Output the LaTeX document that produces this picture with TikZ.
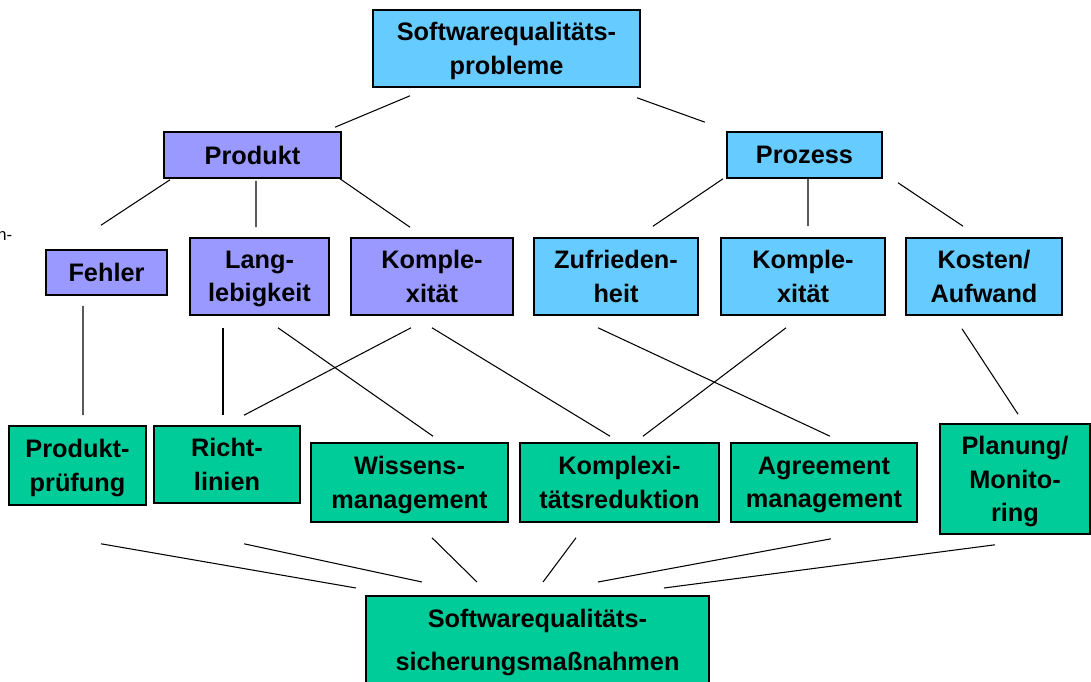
\documentclass[tikz,border=0pt]{standalone}
\usepackage{fontspec}
\setmainfont{Liberation Sans}
\usetikzlibrary{calc}
\definecolor{lblue}{HTML}{66CCFF}
\definecolor{lpurple}{HTML}{9999FF}
\definecolor{lgreen}{HTML}{00CC99}
\begin{document}
\begin{tikzpicture}[x=0.02cm,y=-0.02cm,
  box/.style={draw=black, line width=0.9pt, align=center, inner sep=0pt,
    font=\fontsize{14.4}{19}\selectfont\bfseries},
  bx/.style 2 args={minimum width=#1*0.02cm, minimum height=#2*0.02cm, text depth=0pt},
  blue/.style={box, fill=lblue},
  purple/.style={box, fill=lpurple},
  green/.style={box, fill=lgreen},
  conn/.style={line width=0.6pt, draw=black}]
\useasboundingbox (0,0) rectangle (1091,682);
\clip (0,0) rectangle (1091,682);

% top
\node[blue, bx={267}{77}] (top) at (506.5,48.5) {Softwarequalitäts-\\probleme};
% second level
\node[purple, bx={177}{46}] (prod) at (252.5,155) {Produkt};
\node[blue, bx={155}{46}] (proz) at (804.5,155) {Prozess};
% third level
\node[purple, bx={121}{45}] (fehler) at (106.5,272.5) {Fehler};
\node[purple, bx={139}{77}] (lang) at (259.5,276.5) {Lang-\\lebigkeit};
\node[purple, bx={162}{77}] (kompP) at (432,276.5) {Komple-\\xität};
\node[blue, bx={164}{77}] (zuf) at (616,276.5) {Zufrieden-\\heit};
\node[blue, bx={164}{77}] (kompB) at (803,276.5) {Komple-\\xität};
\node[blue, bx={156}{77}] (kost) at (984,276.5) {Kosten/\\Aufwand};
% measures
\node[green, bx={137}{79}] (pp) at (77.5,465.5) {Produkt-\\prüfung};
\node[green, bx={146}{77}] (richt) at (227,464.5) {Richt-\\linien};
\node[green, bx={197}{79}] (wiss) at (409.5,482.5) {Wissens-\\management};
\node[green, bx={199}{79}] (kred) at (619.5,482.5) {Komplexi-\\tätsreduktion};
\node[green, bx={186}{79}] (agr) at (824,482.5) {Agreement\\management};
\node[green, bx={150}{110}] (plan) at (1015,479) {Planung/\\Monito-\\ring};
% bottom
\node[green, minimum width=343*0.02cm, inner ysep=7.65pt, anchor=north,
  font=\fontsize{14.4}{24.4}\selectfont\bfseries] (bot) at (537.5,595)
  {Softwarequalitäts-\\sicherungsmaßnahmen};
% cut-off text at the left edge
\node[anchor=base east, inner sep=0pt, font=\fontsize{9.5}{10}\selectfont] (frag) at (12.5,240) {n-};

% connectors
\draw[conn] ($(top.south)+(-96.5,8)$) -- ($(prod.north)+(82.5,-4)$);
\draw[conn] ($(top.south)+(130.5,10)$) -- ($(proz.north)+(-99.5,-9)$);
\draw[conn] ($(prod.south)+(-82.5,1)$) -- ($(fehler.north)+(-5.5,-24)$);
\draw[conn] ($(prod.south)+(3.5,2)$) -- ($(lang.north)+(-3.5,-10)$);
\draw[conn] ($(prod.south)+(87.5,0)$) -- ($(kompP.north)+(-22,-10)$);
\draw[conn] ($(proz.south)+(-81.5,0)$) -- ($(zuf.north)+(37,-11)$);
\draw[conn] ($(proz.south)+(3.5,-1)$) -- ($(kompB.north)+(5,-11)$);
\draw[conn] ($(proz.south)+(93.5,4)$) -- ($(kost.north)+(-21,-11)$);
\draw[conn] ($(fehler.south)+(-23.5,10)$) -- ($(pp.north)+(5.5,-10)$);
\draw[conn] ($(lang.south)+(-36.5,12)$) -- ($(richt.north)+(-4,-10)$);
\draw[conn] ($(lang.south)+(18.5,12)$) -- ($(wiss.north)+(23.5,-6)$);
\draw[conn] ($(kompP.south)+(-21,12)$) -- ($(richt.north)+(17,-10)$);
\draw[conn] ($(kompP.south)+(0,12)$) -- ($(kred.north)+(-9.5,-6)$);
\draw[conn] ($(zuf.south)+(-18,12)$) -- ($(agr.north)+(6,-6)$);
\draw[conn] ($(kompB.south)+(-17,12)$) -- ($(kred.north)+(23.5,-6)$);
\draw[conn] ($(kost.south)+(-22,13)$) -- ($(plan.north)+(3,-9)$);
\draw[conn] ($(pp.south)+(23.5,38)$) -- ($(bot.north)+(-181.5,-7)$);
\draw[conn] ($(richt.south)+(17,40)$) -- ($(bot.north)+(-115.5,-13)$);
\draw[conn] ($(wiss.south)+(22.5,15)$) -- ($(bot.north)+(-60.5,-13)$);
\draw[conn] ($(kred.south)+(-43.5,15)$) -- ($(bot.north)+(5.5,-13)$);
\draw[conn] ($(agr.south)+(7,16)$) -- ($(bot.north)+(60.5,-13)$);
\draw[conn] ($(plan.south)+(-20,10)$) -- ($(bot.north)+(126.5,-7)$);
\end{tikzpicture}
\end{document}
